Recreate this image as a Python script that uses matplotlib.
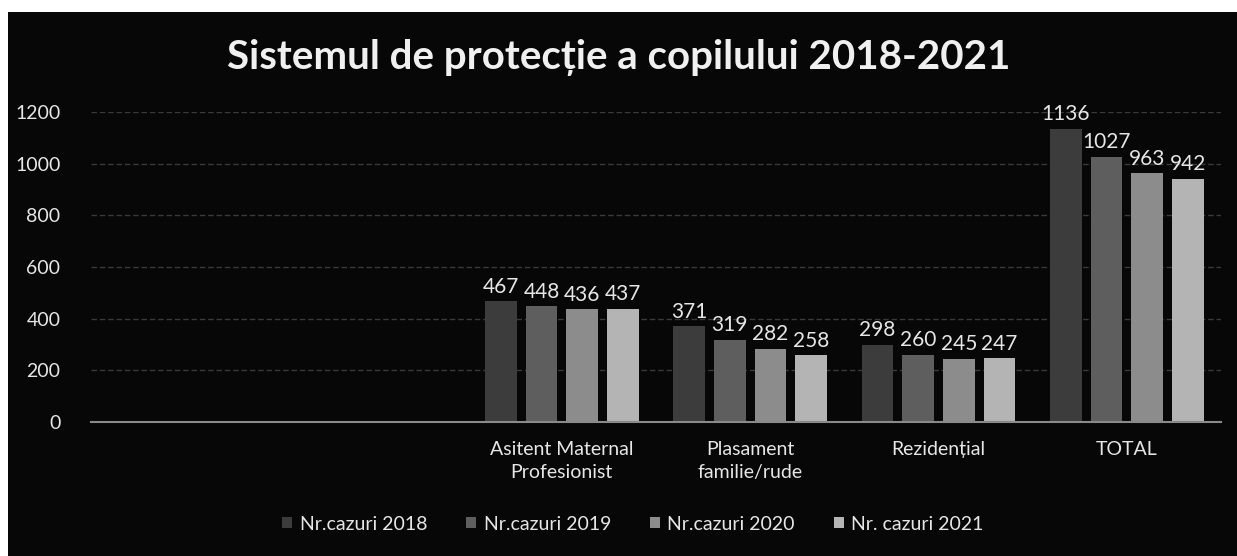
import matplotlib.pyplot as plt
import matplotlib.patches as patches
import numpy as np

# data
categories = ['', '', 'Asitent Maternal\nProfesionist', 'Plasament\nfamilie/rude', 'Rezidențial', 'TOTAL']
series = ['Nr.cazuri 2018', 'Nr.cazuri 2019', 'Nr.cazuri 2020', 'Nr. cazuri 2021']
cazuri_2018 = [0, 0, 467, 371, 298, 1136]
cazuri_2019 = [0, 0, 448, 319, 260, 1027]
cazuri_2020 = [0, 0, 436, 282, 245, 963]
cazuri_2021 = [0, 0, 437, 258, 247, 942]
values = [cazuri_2018, cazuri_2019, cazuri_2020, cazuri_2021]
colors = ['#3c3c3c', '#5e5e5e', '#8c8c8c', '#b4b4b4']
txt = '#e6e6e6'

plt.rcParams['font.family'] = ['Lato', 'DejaVu Sans']

fig = plt.figure(figsize=(12.37, 5.56), dpi=100, facecolor='white')
# dark chart area, white scan margin at top/left
fig.patches.append(patches.Rectangle((8/1237, 0), 1, 1 - 12/556, transform=fig.transFigure,
                                     facecolor='#070707', edgecolor='none', zorder=-10))

ax = fig.add_axes([91/1237, 1 - 422/556, (1221-91)/1237, 310/556])
ax.set_facecolor('none')

x = np.arange(len(categories))
width = 0.168
pitch = 0.216
for i, (name, vals) in enumerate(zip(series, values)):
    pos = x + (i - 1.5) * pitch
    vals = np.array(vals)
    mask = vals > 0
    ax.bar(pos[mask], vals[mask], width, color=colors[i], label=name, zorder=3)
    for p, v in zip(pos[mask], vals[mask]):
        ax.text(p, v + 18, str(v), ha='center', va='bottom', color=txt, fontsize=15, clip_on=False)

ax.set_xlim(-0.5, len(categories) - 0.5)
ax.set_ylim(0, 1200)
ax.set_yticks(range(0, 1201, 200))
ax.set_xticks(x)
ax.set_xticklabels(categories, color=txt, fontsize=14, linespacing=1.4)
ax.tick_params(axis='y', colors=txt, labelsize=14, length=0, pad=22)
ax.tick_params(axis='x', length=0, pad=14)
ax.grid(axis='y', color='#3a3a3a', linewidth=1, linestyle=(0, (4, 2)), zorder=0)
for s in ['top', 'right', 'left']:
    ax.spines[s].set_visible(False)
ax.spines['bottom'].set_color('#8a8a8a')
ax.spines['bottom'].set_linewidth(1.5)
ax.spines['bottom'].set_zorder(4)

fig.text(0.5, 1 - 58/556, 'Sistemul de protecție a copilului 2018-2021', ha='center', va='center',
         color='#f0f0f0', fontsize=29, fontweight='bold')

leg = fig.legend(loc='center', bbox_to_anchor=(633/1237, 1 - 524/556), ncol=4, frameon=False,
                 fontsize=14, handlelength=0.5, handleheight=0.5, columnspacing=2.0, handletextpad=0.4)
for t in leg.get_texts():
    t.set_color(txt)

fig.savefig('out.png', dpi=100, facecolor='white')
